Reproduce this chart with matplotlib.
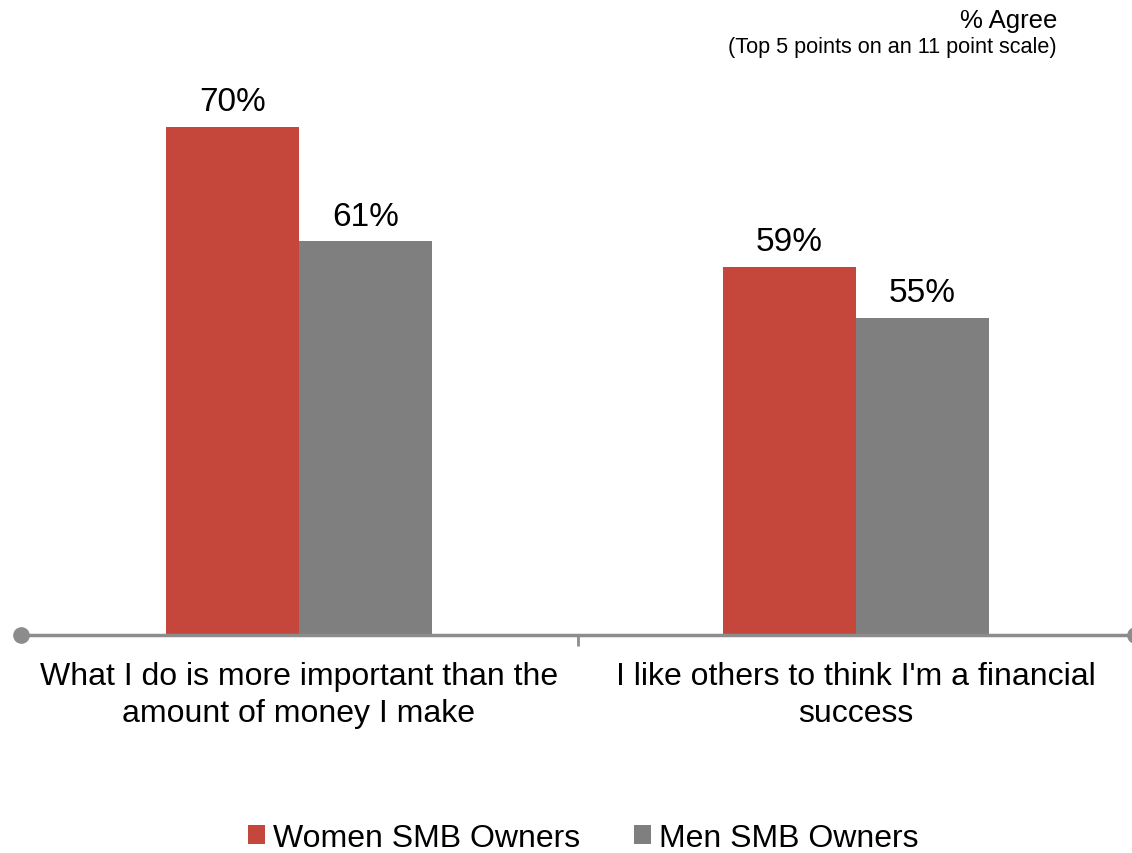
import matplotlib
matplotlib.use("Agg")
import matplotlib.pyplot as plt
import numpy as np
from matplotlib.transforms import offset_copy

categories = ["What I do is more important than the\namount of money I make",
              "I like others to think I'm a financial\nsuccess"]
women = [70, 59]
men = [61, 55]
series_names = ["Women SMB Owners", "Men SMB Owners"]
colors = ["#C5473B", "#7F7F7F"]

plt.rcParams['font.family'] = ['Liberation Sans', 'DejaVu Sans']

fig = plt.figure(figsize=(11.32, 8.54), dpi=100)
ax = fig.add_axes([20.5/1132, (854-636)/854, 1114/1132, (636-90)/854])

x = np.arange(len(categories))
w = 0.239
b1 = ax.bar(x - w/2, women, w, color=colors[0], label=series_names[0])
b2 = ax.bar(x + w/2, men, w, color=colors[1], label=series_names[1])
ax.set_ylim(30, 73)
ax.set_xlim(-0.5, 1.5)

for bars, vals in ((b1, women), (b2, men)):
    for r, v in zip(bars, vals):
        ax.annotate(f"{v}%", (r.get_x() + r.get_width()/2, v), xytext=(0, 7),
                    textcoords='offset points', ha='center', va='bottom', fontsize=24)

for s in ['top', 'right', 'left']:
    ax.spines[s].set_visible(False)
ax.spines['bottom'].set_color('#8C8C8C')
ax.spines['bottom'].set_linewidth(2.5)
ax.set_yticks([])
ax.set_xticks([0.5])
ax.set_xticklabels([''])
ax.tick_params(axis='x', length=8, width=2, color='#8C8C8C', direction='out')
ax.plot([-0.5, 1.5], [30, 30], 'o', color='#8C8C8C', markersize=11, clip_on=False, zorder=5)

lab_tr = offset_copy(ax.transData, fig=fig, y=-26, units='dots')
for xi, lab in zip(x, categories):
    ax.text(xi, 30, lab, ha='center', va='top', fontsize=23, linespacing=1.32,
            transform=lab_tr)

fig.text(1057/1132, 1 - 21/854, "% Agree", ha='right', va='center', fontsize=18.5)
fig.text(1057/1132, 1 - 47/854, "(Top 5 points on an 11 point scale)", ha='right', va='center', fontsize=15.6)

fig.legend(handles=[b1, b2], labels=series_names, loc='center', bbox_to_anchor=(583/1132, 1 - 839/854),
           ncol=2, frameon=False, fontsize=23, handlelength=0.53, handleheight=0.53,
           handletextpad=0.25, columnspacing=1.7)

fig.savefig("out.png", dpi=100)
